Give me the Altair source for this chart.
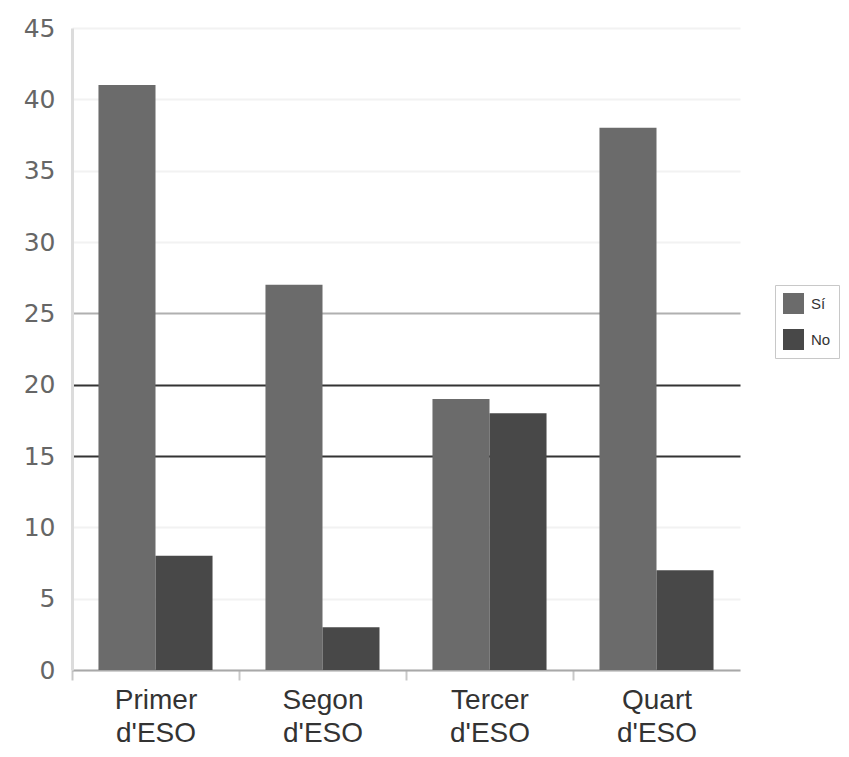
import altair as alt
import pandas as pd

categories = ["Primer d'ESO", "Segon d'ESO", "Tercer d'ESO", "Quart d'ESO"]
series = ["Sí", "No"]
si_values = [41, 27, 19, 38]
no_values = [8, 3, 18, 7]
y_ticks = [0, 5, 10, 15, 20, 25, 30, 35, 40, 45]

rows = []
for c, s, n in zip(categories, si_values, no_values):
    rows.append({"curs": c, "resposta": "Sí", "valor": s})
    rows.append({"curs": c, "resposta": "No", "valor": n})
df = pd.DataFrame(rows)

chart = alt.Chart(df).mark_bar().encode(
    x=alt.X(
        "curs:N",
        sort=categories,
        scale=alt.Scale(paddingInner=0.317, paddingOuter=0.1585),
        axis=alt.Axis(
            title=None,
            labelAngle=0,
            labelExpr="split(datum.label, ' ')",
            labelFont="Liberation Sans",
            labelFontSize=28,
            labelLineHeight=33,
            labelColor="#333333",
            labelPadding=6,
            tickOffset=-83.5,
            labelOffset=83.5,
            tickColor="#c8c8c8",
            tickSize=10,
            tickWidth=2,
            domainColor="#a8a8a8",
            domainWidth=2,
            grid=False,
        ),
    ),
    xOffset=alt.XOffset("resposta:N", sort=series,
                        scale=alt.Scale(paddingInner=0, paddingOuter=0)),
    y=alt.Y(
        "valor:Q",
        scale=alt.Scale(domain=[0, 45], nice=False),
        axis=alt.Axis(
            title=None,
            values=y_ticks,
            ticks=False,
            labelFont="DejaVu Sans",
            labelFontSize=25,
            labelColor="#666666",
            labelPadding=17,
            domainColor="#dcdcdc",
            domainWidth=3,
            grid=True,
            gridColor={
                "condition": [
                    {"test": "datum.value == 15 || datum.value == 20", "value": "#333333"},
                    {"test": "datum.value == 25", "value": "#b0b0b0"},
                ],
                "value": "#f2f2f2",
            },
            gridWidth=2,
        ),
    ),
    color=alt.Color(
        "resposta:N",
        sort=series,
        scale=alt.Scale(domain=series, range=["#6b6b6b", "#484848"]),
        legend=alt.Legend(
            title=None,
            orient="none",
            legendX=703,
            legendY=257,
            symbolType="square",
            symbolSize=441,
            symbolStrokeWidth=0,
            symbolOpacity=1,
            labelFont="Liberation Sans",
            labelFontSize=15,
            labelColor="#333333",
            labelOffset=7,
            rowPadding=15,
            padding=8,
            strokeColor="#c8c8c8",
            fillColor="#ffffff",
        ),
    ),
).properties(
    width=668,
    height=642,
    autosize=alt.AutoSizeParams(type="none"),
    padding={"left": 64, "top": 20, "right": 101, "bottom": 79},
).configure_view(stroke=None)

chart.save("out.html", embed_options={"renderer": "svg", "actions": False})
